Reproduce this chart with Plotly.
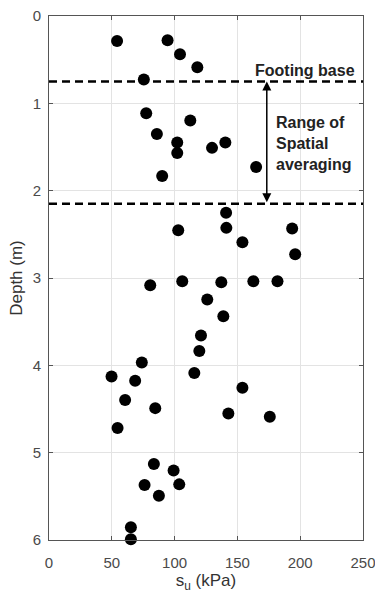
import plotly.graph_objects as go

su_kpa = [54.2, 94.4, 104.3, 118.1, 75.5, 77.4, 112.5, 85.9, 102.1, 140.4, 129.8,
          102.1, 164.9, 90.1, 141.0, 102.9, 141.2, 193.6, 154.0, 196.0, 80.6, 106.1,
          137.2, 162.7, 181.9, 126.0, 138.8, 121.0, 119.7, 73.9, 115.7, 49.8, 68.6,
          154.0, 60.6, 84.6, 142.8, 175.8, 54.6, 83.5, 99.2, 76.1, 103.7, 87.5, 65.2, 65.2]
depth_m = [0.286, 0.278, 0.438, 0.587, 0.728, 1.113, 1.197, 1.350, 1.449, 1.449, 1.510,
           1.568, 1.728, 1.831, 2.254, 2.452, 2.426, 2.433, 2.590, 2.727, 3.082, 3.036,
           3.048, 3.036, 3.036, 3.246, 3.437, 3.658, 3.837, 3.967, 4.089, 4.127, 4.177,
           4.257, 4.398, 4.490, 4.551, 4.589, 4.718, 5.130, 5.203, 5.371, 5.363, 5.493, 5.855, 5.992]

footing_depth = 0.75
averaging_bottom = 2.15
arrow_x = 173.4
label_x = 182.0
x_ticks = [0, 50, 100, 150, 200, 250]
y_ticks = [0, 1, 2, 3, 4, 5, 6]

FONT = "Liberation Sans, Arial, Helvetica"

fig = go.Figure()
fig.add_trace(go.Scatter(x=su_kpa, y=depth_m, mode="markers",
                         marker=dict(color="black", size=12), showlegend=False,
                         cliponaxis=False))

for d in [footing_depth, averaging_bottom]:
    fig.add_shape(type="line", xref="paper", x0=0, x1=1, yref="y", y0=d, y1=d,
                  line=dict(color="black", width=2.5, dash="8px,5px"))

fig.add_annotation(x=arrow_x, y=footing_depth, ax=arrow_x, ay=averaging_bottom,
                   xref="x", yref="y", axref="x", ayref="y", text="",
                   showarrow=True, arrowhead=2, arrowside="end+start",
                   arrowsize=1.2, arrowwidth=1.5, arrowcolor="black")

fig.add_annotation(x=1, xref="paper", y=footing_depth, yref="y", text="<b>Footing base</b>",
                   showarrow=False, xanchor="right", yanchor="bottom", yshift=1, xshift=-6,
                   font=dict(family=FONT, size=16, color="#222"))
fig.add_annotation(x=label_x, xref="x", y=(footing_depth + averaging_bottom) / 2, yref="y",
                   text="<b>Range of<br>Spatial<br>averaging</b>", align="left",
                   showarrow=False, xanchor="left", yanchor="middle", xshift=-4, yshift=-1,
                   font=dict(family=FONT, size=16, color="#222"))

axis_common = dict(showgrid=True, gridcolor="#e3e3e3", gridwidth=1, zeroline=False,
                   showline=True, linecolor="#555", linewidth=1, mirror="ticks",
                   ticks="inside", ticklen=4, tickcolor="#555", automargin=False,
                   ticklabeloverflow="allow",
                   tickfont=dict(family=FONT, size=15, color="#4a4a4a"))

fig.update_xaxes(range=[0, 250], tickvals=x_ticks, ticklabelstandoff=9,
                 title=dict(text="s<sub>u</sub> (kPa)",
                            font=dict(family=FONT, size=17, color="#333"), standoff=19),
                 **axis_common)
fig.update_yaxes(range=[6, 0], tickvals=y_ticks, ticklabelstandoff=4,
                 title=dict(text="Depth (m)",
                            font=dict(family=FONT, size=17, color="#333"), standoff=5),
                 **axis_common)

fig.update_layout(width=375, height=593, margin=dict(l=49, r=12, t=16, b=53),
                  plot_bgcolor="white", paper_bgcolor="white")

# remove the default page margin so the figure fills the 375x593 window exactly
fig.write_html("out.html", config={"displayModeBar": False},
               post_script="document.body.style.margin='0';document.body.style.overflow='hidden';")
